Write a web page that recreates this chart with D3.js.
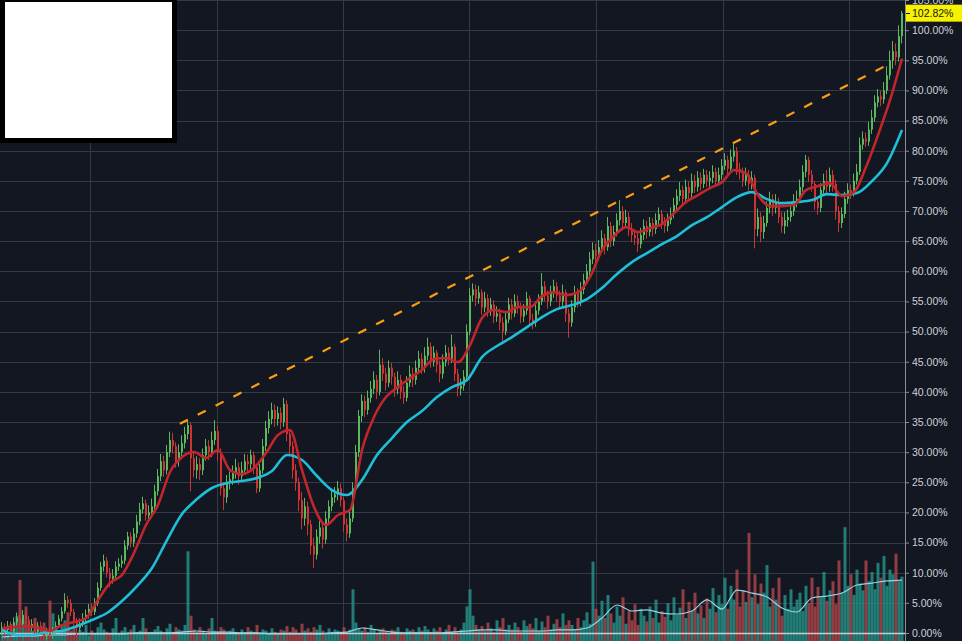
<!DOCTYPE html>
<html><head><meta charset="utf-8">
<script src="https://cdn.jsdelivr.net/npm/d3@7"></script>
<style>html,body{margin:0;padding:0;background:#131722;overflow:hidden}</style>
</head><body><svg id="c" width="962" height="641"></svg>
<script>
// ---------- DATA (values in %) ----------
const opens = [0.5,1.0,0.5,1.2,0.3,1.8,2.5,1.5,3.0,2.2,
1.0,1.5,0.2,1.2,0.8,-0.5,0.3,-0.3,0.3,1.2,
2.4,3.6,5.5,5.0,3.5,2.0,0.8,1.5,2.5,3.0,
4.0,3.5,5.0,7.5,11.0,12.0,10.0,9.0,9.5,11.0,
11.5,12.0,14.5,16.0,15.0,16.5,18.5,20.5,21.5,19.5,
20.0,21.0,23.5,26.0,28.5,27.0,30.0,32.0,31.0,28.5,
30.0,31.5,33.0,34.5,29.0,27.0,28.0,27.0,29.5,31.0,
30.0,32.0,33.5,30.0,24.0,22.5,25.0,25.5,26.5,27.5,
26.0,27.0,28.5,28.0,29.5,27.5,24.0,27.0,31.0,34.0,
35.5,37.0,35.5,36.5,35.0,38.0,33.0,31.0,27.0,25.0,
22.0,19.0,21.0,18.0,14.5,13.0,16.0,17.5,15.5,19.0,
21.0,22.5,23.0,24.0,22.0,18.0,16.5,19.0,24.0,30.0,
36.0,38.5,37.0,39.0,40.5,42.0,40.0,44.5,43.0,41.5,
44.0,42.5,40.5,42.0,40.0,39.0,41.5,43.0,42.0,44.0,
45.5,44.0,46.0,47.5,45.0,46.5,44.5,43.0,45.0,46.5,
45.5,47.5,43.0,40.5,41.0,42.5,50.0,56.0,57.0,55.5,
56.5,54.0,55.5,53.5,54.5,52.5,53.0,51.5,50.0,52.0,
54.5,53.0,55.0,54.0,52.5,53.5,55.5,52.0,51.5,53.5,
55.0,57.5,56.0,55.0,56.5,57.5,56.0,55.0,56.5,53.0,
51.5,54.0,56.5,55.0,57.0,58.5,60.0,62.0,63.5,62.5,
64.0,65.5,64.0,67.5,65.0,66.5,68.5,70.0,68.0,69.0,
67.0,66.0,65.5,64.5,66.0,67.5,66.5,68.0,67.0,68.5,
69.5,68.0,67.5,68.5,69.5,71.0,72.5,73.5,72.0,74.0,
73.0,75.0,74.0,75.5,74.5,76.0,75.0,75.5,76.5,75.0,
76.0,77.5,78.5,77.0,79.0,80.0,77.0,76.5,75.0,76.0,
74.5,75.5,67.0,69.0,66.5,68.0,70.5,72.0,70.5,71.5,
69.0,67.5,68.5,69.0,70.0,71.5,72.0,74.0,76.5,78.5,
76.0,74.5,71.5,70.5,73.5,75.0,74.0,76.0,74.5,70.0,
68.0,69.5,72.0,73.5,73.0,75.0,76.5,81.0,82.0,81.5,
83.5,85.5,88.0,89.0,88.5,90.0,92.5,95.0,96.5,95.5,
99.0];
const closes = [1.0,0.5,1.2,0.3,1.8,2.5,1.5,3.0,2.2,1.0,
1.5,0.2,1.2,0.8,-0.5,0.3,-0.3,0.3,1.2,2.4,
3.6,5.5,5.0,3.5,2.0,0.8,1.5,2.5,3.0,4.0,
3.5,5.0,7.5,11.0,12.0,10.0,9.0,9.5,11.0,11.5,
12.0,14.5,16.0,15.0,16.5,18.5,20.5,21.5,19.5,20.0,
21.0,23.5,26.0,28.5,27.0,30.0,32.0,31.0,28.5,30.0,
31.5,33.0,34.5,29.0,27.0,28.0,27.0,29.5,31.0,30.0,
32.0,33.5,30.0,24.0,22.5,25.0,25.5,26.5,27.5,26.0,
27.0,28.5,28.0,29.5,27.5,24.0,27.0,31.0,34.0,35.5,
37.0,35.5,36.5,35.0,38.0,33.0,31.0,27.0,25.0,22.0,
19.0,21.0,18.0,14.5,13.0,16.0,17.5,15.5,19.0,21.0,
22.5,23.0,24.0,22.0,18.0,16.5,19.0,24.0,30.0,36.0,
38.5,37.0,39.0,40.5,42.0,40.0,44.5,43.0,41.5,44.0,
42.5,40.5,42.0,40.0,39.0,41.5,43.0,42.0,44.0,45.5,
44.0,46.0,47.5,45.0,46.5,44.5,43.0,45.0,46.5,45.5,
47.5,43.0,40.5,41.0,42.5,50.0,56.0,57.0,55.5,56.5,
54.0,55.5,53.5,54.5,52.5,53.0,51.5,50.0,52.0,54.5,
53.0,55.0,54.0,52.5,53.5,55.5,52.0,51.5,53.5,55.0,
57.5,56.0,55.0,56.5,57.5,56.0,55.0,56.5,53.0,51.5,
54.0,56.5,55.0,57.0,58.5,60.0,62.0,63.5,62.5,64.0,
65.5,64.0,67.5,65.0,66.5,68.5,70.0,68.0,69.0,67.0,
66.0,65.5,64.5,66.0,67.5,66.5,68.0,67.0,68.5,69.5,
68.0,67.5,68.5,69.5,71.0,72.5,73.5,72.0,74.0,73.0,
75.0,74.0,75.5,74.5,76.0,75.0,75.5,76.5,75.0,76.0,
77.5,78.5,77.0,79.0,80.0,77.0,76.5,75.0,76.0,74.5,
75.5,67.0,69.0,66.5,68.0,70.5,72.0,70.5,71.5,69.0,
67.5,68.5,69.0,70.0,71.5,72.0,74.0,76.5,78.5,76.0,
74.5,71.5,70.5,73.5,75.0,74.0,76.0,74.5,70.0,68.0,
69.5,72.0,73.5,73.0,75.0,76.5,81.0,82.0,81.5,83.5,
85.5,88.0,89.0,88.5,90.0,92.5,95.0,96.5,95.5,99.0,
102.82];
const highs = [1.8,1.6,2.0,1.9,2.6,3.4,3.2,3.8,3.5,2.8,
2.3,2.0,1.8,1.9,1.2,0.9,1.0,1.0,1.9,3.0,
4.3,6.6,6.2,5.6,4.0,2.5,2.4,3.3,3.9,4.8,
4.9,5.8,8.4,11.8,13.0,12.6,10.8,10.6,11.9,12.4,
12.9,15.4,16.8,16.7,17.4,19.6,21.6,22.6,22.1,21.2,
22.3,24.6,27.2,29.7,29.4,31.2,33.4,33.2,31.6,31.3,
32.8,34.2,35.3,34.9,30.2,29.3,29.0,30.6,32.2,32.0,
33.4,35.3,34.4,30.6,25.0,26.2,26.8,27.8,28.9,28.3,
28.4,29.7,29.6,30.4,30.1,28.0,28.1,32.2,35.2,36.8,
38.2,37.9,37.6,37.4,39.0,38.6,33.8,31.8,28.0,25.8,
23.4,22.4,21.8,18.8,15.8,17.2,18.6,18.2,20.2,22.0,
23.6,24.2,25.2,24.8,22.6,19.0,20.4,25.0,31.2,37.0,
39.6,39.4,40.2,41.8,43.4,42.8,47.0,45.6,44.0,45.2,
44.8,43.2,43.4,42.8,41.0,42.6,44.4,44.0,45.2,46.8,
46.4,47.4,49.0,48.2,47.6,47.0,45.2,46.2,47.8,47.4,
49.5,48.0,43.8,42.2,43.6,51.2,57.2,58.0,57.8,57.6,
57.0,56.6,56.2,55.6,55.2,54.2,53.8,52.4,53.2,55.6,
55.4,56.2,56.0,54.8,54.6,56.6,56.0,53.0,54.6,56.2,
59.7,58.4,56.8,57.6,58.6,58.2,56.8,57.8,57.0,53.8,
55.2,57.6,57.2,58.2,59.6,61.2,63.2,64.8,64.6,65.2,
66.8,66.2,69.0,68.2,67.6,69.6,71.8,70.8,70.2,69.8,
68.0,67.0,66.4,67.2,68.6,68.4,69.0,68.8,69.6,70.6,
70.2,69.0,69.6,70.6,72.2,73.6,74.8,74.2,75.2,75.0,
76.2,76.0,76.6,76.4,77.0,76.8,76.6,77.6,77.2,77.2,
78.6,79.6,79.2,80.2,81.2,80.6,78.0,77.2,77.2,76.8,
76.6,76.0,70.4,69.8,69.2,71.6,73.2,72.8,72.8,72.2,
69.8,69.8,70.2,71.2,72.8,73.4,75.2,77.6,79.3,79.0,
76.8,75.0,72.4,74.6,76.2,76.8,77.2,76.8,75.2,70.8,
70.6,73.2,74.6,74.4,76.2,77.8,82.2,83.2,83.0,84.8,
86.8,89.2,90.2,90.0,91.4,94.0,96.6,98.2,97.8,100.8,
103.2];
const lows = [-0.3,-0.2,0.0,-0.6,-0.1,1.2,0.6,1.0,1.4,0.2,
0.3,-0.5,-0.3,0.0,-1.2,-1.1,-1.0,-0.9,-0.2,0.8,
1.9,3.2,4.2,2.8,1.2,-0.6,0.1,1.0,1.8,2.4,
2.8,3.0,4.5,7.0,10.2,9.2,7.6,8.2,8.9,10.3,
10.8,11.4,13.8,14.2,14.3,15.8,17.9,19.8,18.6,18.8,
19.2,20.4,22.8,25.2,25.9,26.3,29.2,29.8,27.4,27.6,
29.2,30.6,32.1,23.5,25.8,25.6,25.4,26.2,28.6,28.7,
29.2,31.2,28.6,22.8,20.4,21.6,23.8,24.6,25.6,24.6,
25.1,26.2,26.8,27.2,26.4,23.2,23.4,26.4,30.2,33.1,
34.6,34.2,34.4,33.8,34.2,31.8,29.5,25.6,23.6,20.2,
17.2,17.8,16.2,13.0,10.8,12.2,14.8,14.0,14.8,18.2,
20.2,21.6,22.0,21.0,16.8,15.2,15.8,18.4,23.4,29.2,
35.0,35.8,36.2,38.2,39.6,38.8,39.4,41.8,40.2,40.8,
41.2,39.2,39.6,38.8,38.0,38.4,40.8,40.8,41.2,43.2,
43.0,43.2,45.2,44.0,44.2,43.2,41.6,42.2,44.2,44.4,
44.8,41.8,39.2,39.4,40.2,42.0,49.4,55.0,54.2,54.6,
52.8,53.2,52.4,52.6,51.4,51.6,50.2,48.0,49.4,51.4,
52.0,52.4,53.0,51.4,51.6,52.8,50.8,50.4,50.8,52.8,
54.4,55.0,53.8,54.2,55.6,55.0,53.8,54.2,51.6,49.0,
50.8,53.2,54.0,54.2,56.2,57.8,59.2,61.2,61.2,61.8,
63.2,62.8,63.4,64.0,64.2,65.8,67.6,66.8,67.2,65.8,
64.8,64.4,63.2,63.8,65.2,65.4,65.8,65.8,66.2,67.6,
67.0,66.4,66.6,67.8,68.8,70.2,71.6,70.8,71.2,72.0,
72.2,73.0,73.2,73.4,73.8,74.0,74.0,74.6,74.0,74.2,
75.2,76.8,76.0,76.4,78.2,76.0,75.2,74.0,74.2,73.4,
73.6,63.8,65.8,64.8,65.4,67.4,69.6,69.2,69.6,68.0,
66.4,66.2,67.4,68.2,69.2,70.6,71.4,73.2,75.6,74.8,
73.2,70.2,69.4,69.8,72.6,73.0,73.2,73.2,68.6,66.5,
67.2,68.8,71.2,72.0,72.4,74.4,76.0,80.2,80.6,80.8,
82.8,84.8,87.2,87.4,87.8,89.4,91.8,93.6,94.2,94.8,
97.8];
const volumes = [8,12,6,15,10,22,53,18,30,14,
9,20,7,12,16,10,35,24,12,8,
14,18,25,9,12,6,10,8,14,5,
9,7,12,16,10,8,6,11,20,7,
9,12,8,10,14,6,9,20,11,7,
8,10,13,9,6,11,15,8,12,10,
9,14,78,22,10,8,12,9,7,11,
20,9,8,12,10,6,9,11,8,7,
10,6,12,9,8,14,7,10,9,6,
11,8,7,10,9,13,8,12,10,7,
15,9,11,8,12,10,14,9,7,11,
8,10,9,6,12,8,10,45,16,11,
9,12,8,14,10,7,9,11,8,6,
10,9,12,8,7,11,9,10,8,12,
9,13,10,8,11,9,12,7,10,14,
8,12,7,10,16,30,45,22,14,10,
13,9,16,11,8,18,12,20,10,14,
10,16,12,8,18,13,15,11,20,9,
17,12,22,10,15,19,12,24,14,18,
14,10,20,12,18,25,15,69,28,22,
35,20,40,24,16,30,22,38,15,26,
18,32,14,28,22,17,30,20,36,16,
26,21,33,18,38,23,29,45,20,34,
26,42,24,31,20,37,28,46,25,40,
32,55,28,48,36,62,30,44,34,94,
38,58,32,50,42,66,30,46,36,55,
22,40,28,45,30,36,42,26,48,33,
55,30,47,38,60,35,44,52,32,70,
42,99,48,58,40,62,50,44,70,52,
60,45,68,55,74,48,62,58,76,52,
56];
// moving averages sampled every few bars
const fastMAStep = 4;
const fastMA = [0.83,1.0,1.16,0.83,0.33,1.33,1.82,2.49,5.47,8.29,
9.62,13.27,17.91,21.23,26.7,29.19,30.02,29.02,30.35,27.03,
26.37,27.36,29.85,32.84,33.67,27.03,20.9,17.91,19.57,20.4,
30.35,35.82,39.14,40.8,42.29,43.62,45.44,45.61,44.94,47.76,
52.24,53.57,53.23,54.06,54.06,55.89,56.55,56.05,56.55,59.04,
63.52,65.84,67.33,66.5,67.16,67.83,69.65,71.48,72.64,73.8,
74.79,76.78,76.29,72.64,70.81,70.81,70.98,73.47,74.13,74.63,
72.47,73.13,77.28,82.59,88.39,95.3];
const slowMAStep = 5;
const slowMA = [0.5,-0.33,-0.33,0.17,0.33,1.16,2.16,3.32,5.31,7.79,
10.78,15.42,19.73,22.22,24.05,24.88,25.21,25.7,26.87,29.52,
28.69,26.04,23.71,22.89,25.37,29.52,32.34,34.99,36.82,39.14,
40.8,41.96,45.77,47.6,49.09,50.75,52.4,53.73,54.39,55.39,
57.21,59.54,61.53,63.02,64.51,65.84,67.66,68.99,70.65,72.31,
73.13,71.97,71.31,71.48,71.81,72.8,72.64,72.97,74.96,77.94,
83.42];
const volMAStep = 5;
const volMA = [3.5,4.3,4.3,5.2,5.2,6.1,6.1,6.1,6.1,7.0,
7.0,7.0,7.8,8.7,7.8,7.8,7.0,7.0,6.1,6.1,
6.1,6.1,7.0,7.8,11.3,9.6,7.8,7.0,7.0,7.0,
7.8,8.7,9.6,9.6,8.7,8.7,8.7,9.6,9.6,11.3,
20.0,31.3,26.1,27.0,24.3,23.5,26.1,35.7,27.8,44.3,
41.7,38.3,28.7,25.2,37.4,39.1,41.7,48.7,50.4,52.2,
53.0];
const trendIdx = [59.3, 297];
const trendVal = [34.7, 94.7];
const priceTicks = [0,5,10,15,20,25,30,35,40,45,50,55,60,65,70,75,80,85,90,95,100,105];
const timeGridIdx = [29.33, 71.5, 113.67, 155.83, 198, 240.17, 282.33];
const lastLabel = "102.82%";

// ---------- DRAW ----------
const W = 962, H = 641, axisX = 905;
const N = closes.length;
const svg = d3.select('#c');
svg.append('rect').attr('width', W).attr('height', H).attr('fill', '#131722');

const x = d3.scaleLinear().domain([0, N - 1]).range([2, 902]);
const y = d3.scaleLinear().domain([0, 105]).range([633, 0]);
const yv = d3.scaleLinear().domain([0, 100]).range([641, 526]);

const grid = svg.append('g');
grid.selectAll('line.h').data(priceTicks.filter(d => d > 0)).join('line')
  .attr('x1', 0).attr('x2', axisX)
  .attr('y1', d => Math.round(y(d)) + 0.5).attr('y2', d => Math.round(y(d)) + 0.5)
  .attr('stroke', '#363a46').attr('stroke-width', 1);
grid.selectAll('line.v').data(timeGridIdx).join('line')
  .attr('x1', d => Math.round(x(d)) + 0.5).attr('x2', d => Math.round(x(d)) + 0.5)
  .attr('y1', 0).attr('y2', H)
  .attr('stroke', '#363a46').attr('stroke-width', 1);

// volume
const up = i => closes[i] >= opens[i];
svg.append('g').selectAll('rect').data(volumes).join('rect')
  .attr('x', (d, i) => x(i) - 1.5).attr('width', 3)
  .attr('y', d => yv(d)).attr('height', d => H - yv(d))
  .attr('fill', (d, i) => up(i) ? '#26968c' : '#b2474b')
  .attr('opacity', 0.8);

// zero line
svg.append('line').attr('x1', 0).attr('x2', axisX)
  .attr('y1', Math.round(y(0)) + 0.5).attr('y2', Math.round(y(0)) + 0.5)
  .attr('stroke', '#c9cbd1').attr('stroke-width', 1.3);

// volume MA
svg.append('path').datum(volMA)
  .attr('d', d3.line().x((d, k) => x(k * volMAStep)).y(d => yv(d)).curve(d3.curveMonotoneX))
  .attr('fill', 'none').attr('stroke', '#8fd6e6').attr('stroke-width', 1.2);

// candles
const cg = svg.append('g');
cg.selectAll('line').data(closes).join('line')
  .attr('x1', (d, i) => x(i) - 0.5).attr('x2', (d, i) => x(i) - 0.5)
  .attr('y1', (d, i) => y(highs[i])).attr('y2', (d, i) => y(lows[i]))
  .attr('stroke', (d, i) => up(i) ? '#5cb85c' : '#cf3434').attr('stroke-width', 1);
cg.selectAll('rect').data(closes).join('rect')
  .attr('x', (d, i) => x(i) - 1).attr('width', 2)
  .attr('y', (d, i) => y(Math.max(opens[i], closes[i])))
  .attr('height', (d, i) => Math.max(1, Math.abs(y(opens[i]) - y(closes[i]))))
  .attr('fill', (d, i) => up(i) ? '#5cb85c' : '#cf3434');

// moving averages
svg.append('path').datum(slowMA)
  .attr('d', d3.line().x((d, k) => x(k * slowMAStep)).y(d => y(d)).curve(d3.curveMonotoneX))
  .attr('fill', 'none').attr('stroke', '#1fbfd8').attr('stroke-width', 2.6);
svg.append('path').datum(fastMA)
  .attr('d', d3.line().x((d, k) => x(k * fastMAStep)).y(d => y(d)).curve(d3.curveMonotoneX))
  .attr('fill', 'none').attr('stroke', '#c0262b').attr('stroke-width', 2.6);

// trend line
svg.append('line')
  .attr('x1', x(trendIdx[0])).attr('y1', y(trendVal[0]))
  .attr('x2', x(trendIdx[1])).attr('y2', y(trendVal[1]))
  .attr('stroke', '#ff9d12').attr('stroke-width', 2.2).attr('stroke-dasharray', '9,11');

// right axis
svg.append('rect').attr('x', axisX).attr('y', 0).attr('width', W - axisX).attr('height', H).attr('fill', '#131722');
svg.append('line').attr('x1', axisX + 0.5).attr('x2', axisX + 0.5).attr('y1', 0).attr('y2', H)
  .attr('stroke', '#8a8d97').attr('stroke-width', 1);
const ax = svg.append('g').attr('transform', `translate(${axisX},0)`)
  .call(d3.axisRight(y).tickValues(priceTicks).tickFormat(d => d.toFixed(2) + '%').tickSize(4).tickSizeOuter(0).tickPadding(3));
ax.select('.domain').remove();
ax.selectAll('.tick line').attr('stroke', '#8a8d97');
ax.selectAll('.tick text').attr('fill', '#cfd1d7').style('font-family', '"Liberation Sans", Arial, sans-serif').style('font-size', '10.5px');

// last value label
const ly = y(closes[N - 1]);
svg.append('rect').attr('x', axisX + 1).attr('y', ly - 8.5).attr('width', W - axisX).attr('height', 17).attr('fill', '#f7f200');
svg.append('line').attr('x1', axisX + 1).attr('x2', axisX + 5).attr('y1', Math.round(ly) + 0.5).attr('y2', Math.round(ly) + 0.5).attr('stroke', '#131722');
svg.append('text').attr('x', axisX + 7).attr('y', ly).attr('dy', '0.35em')
  .attr('fill', '#131722').style('font-family', '"Liberation Sans", Arial, sans-serif').style('font-size', '10.5px')
  .text(lastLabel);

// white box top-left
svg.append('rect').attr('x', 0).attr('y', 0).attr('width', 177).attr('height', 143).attr('fill', '#000');
svg.append('rect').attr('x', 5).attr('y', 2).attr('width', 167).attr('height', 136).attr('fill', '#fff');
</script></body></html>
